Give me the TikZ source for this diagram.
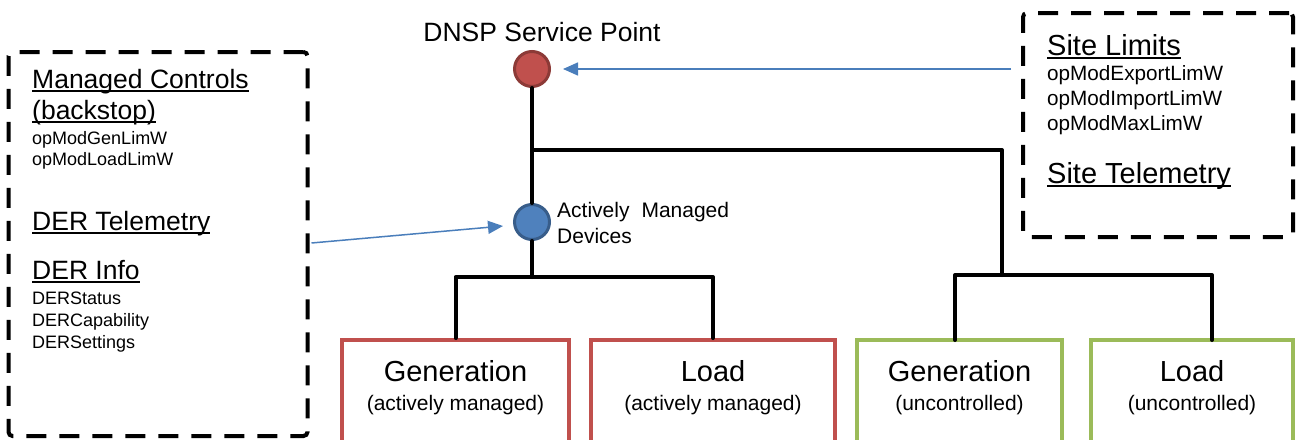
\documentclass[tikz,border=0pt]{standalone}
\usepackage{fontspec}
\setmainfont{Liberation Sans}
\usetikzlibrary{arrows.meta, positioning}

\definecolor{mgred}{HTML}{C0504D}
\definecolor{mgreddark}{HTML}{8C3A37}
\definecolor{amblue}{HTML}{4F81BD}
\definecolor{ambluedark}{HTML}{385D8A}
\definecolor{feedblue}{HTML}{4A7EBB}
\definecolor{ucgreen}{HTML}{9BBB59}

% underline at a fixed depth, as in the panels
\newcommand\panelul[1]{\setbox0\hbox{#1}\rlap{\rule[-3.6pt]{\wd0}{1.8pt}}\box0}

\begin{document}
\begin{tikzpicture}[
    x=1pt, y=-1pt,
    wire/.style={
        line width=4pt,
        line cap=round,
        line join=round,
    },
    feed/.style={
        draw=feedblue,
        line width=1.5pt,
        -{Triangle[length=15pt, width=13pt]},
    },
    infobox/.style={
        draw,
        line width=4pt,
        dash pattern=on 20pt off 13pt,
        rounded corners=4pt,
    },
    bus/.style={
        circle,
        minimum size=35pt,
        inner sep=0pt,
        line width=3pt,
    },
    unit/.style={
        draw=#1,
        line width=4pt,
        fill=white,
        minimum height=130pt,
        inner sep=0pt,
    },
    unittitle/.style={
        anchor=base,
        inner sep=0pt,
        font=\fontsize{29}{34}\selectfont,
    },
    unitnote/.style={
        anchor=base,
        inner sep=0pt,
        font=\fontsize{21}{25}\selectfont,
    },
    heading/.style={
        anchor=base west,
        inner sep=0pt,
        font=\fontsize{#1}{#1}\selectfont,
    },
    param/.style={
        anchor=base west,
        inner sep=0pt,
        font=\fontsize{#1}{#1}\selectfont,
    },
]
    \useasboundingbox (0,0) rectangle (1298,439);

    % Info panels
    \node[infobox, minimum width=299pt, minimum height=384pt] (derpanel) at (158,244) {};
    \node[infobox, minimum width=270pt, minimum height=224pt] (sitepanel) at (1158,125) {};

    % Service point and managed devices
    \node[bus, fill=mgred, draw=mgreddark] (dnsp) at (532,69) {};
    \node[bus, fill=amblue, draw=ambluedark] (amd) at (532,222) {};
    \node[anchor=base, inner sep=0pt, font=\fontsize{26.5}{30}\selectfont] (dnsplabel) at (542,41) {DNSP Service Point};
    \node[anchor=north west, inner sep=0pt, align=left, font=\fontsize{21}{26}\selectfont] (amdlabel) at (557,202.5) {Actively\hspace{12pt}Managed\\Devices};

    % Units
    \node[unit=mgred, minimum width=227pt] (gena) at (455.5,405) {};
    \node[unit=mgred, minimum width=244pt] (loada) at (713,405) {};
    \node[unit=ucgreen, minimum width=205pt] (genu) at (959.5,405) {};
    \node[unit=ucgreen, minimum width=202pt] (loadu) at (1192,405) {};

    \node[unittitle] (genatitle) at (455.5,381) {Generation};
    \node[unitnote] (genanote) at (455.5,410) {(actively managed)};
    \node[unittitle] (loadatitle) at (713,381) {Load};
    \node[unitnote] (loadanote) at (713,410) {(actively managed)};
    \node[unittitle] (genutitle) at (959.5,381) {Generation};
    \node[unitnote] (genunote) at (959.5,410) {(uncontrolled)};
    \node[unittitle] (loadutitle) at (1192,381) {Load};
    \node[unitnote] (loadunote) at (1192,410) {(uncontrolled)};

    % Wiring
    \coordinate (tap) at (532,150);
    \coordinate (amsplit) at (532,277);
    \coordinate (ucsplit) at (1002,275);
    \coordinate (genudrop) at (955,340);
    \coordinate (loadudrop) at (1212,340);

    \draw[wire] (dnsp) -- (amd);
    \draw[wire] (tap) -| (ucsplit);
    \draw[wire] (amd) -- (amsplit);
    \draw[wire] (gena.north) |- (amsplit) -| (loada.north);
    \draw[wire] (genudrop) |- (ucsplit) -| (loadudrop);

    % Panel texts
    \node[heading=26.5] (mctitle) at (32,88) {\panelul{Managed Controls}};
    \node[heading=26.5] (mcsub) at (32,119) {\panelul{(backstop)}};
    \node[param=18] (genlim) at (32,144) {opModGenLimW};
    \node[param=18] (loadlim) at (32,165) {opModLoadLimW};
    \node[heading=26.5] (dertel) at (32,230) {\panelul{DER Telemetry}};
    \node[heading=26.5] (derinfo) at (32,279) {\panelul{DER Info}};
    \node[param=18] (derstatus) at (32,304) {DERStatus};
    \node[param=18] (dercap) at (32,326) {DERCapability};
    \node[param=18] (derset) at (32,348) {DERSettings};

    \node[heading=29] (sitelim) at (1047,55) {\panelul{Site Limits}};
    \node[param=20.7] (explim) at (1047,80) {opModExportLimW};
    \node[param=20.7] (implim) at (1047,105) {opModImportLimW};
    \node[param=20.7] (maxlim) at (1047,130) {opModMaxLimW};
    \node[heading=29] (sitetel) at (1047,183) {\panelul{Site Telemetry}};

    % Data feeds
    \draw[feed] ([xshift=-10pt]sitepanel.west |- dnsp) -- ([xshift=12pt]dnsp.east);
    \draw[feed] ([xshift=2pt]derpanel.east |- 0,243) -- ([xshift=-10pt,yshift=-4pt]amd.west);
\end{tikzpicture}
\end{document}
